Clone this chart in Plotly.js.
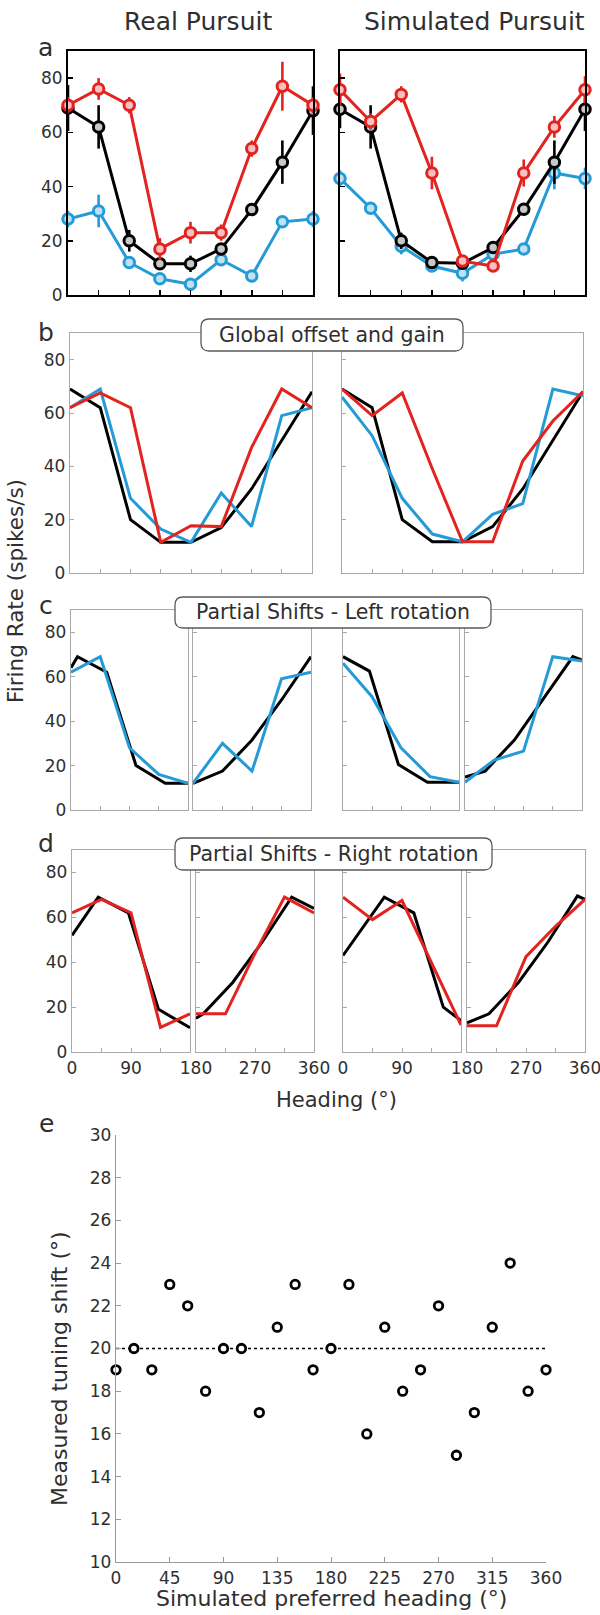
<!DOCTYPE html>
<html>
<head>
<meta charset="utf-8">
<script src="https://cdn.plot.ly/plotly-3.0.1.min.js"></script>
<style>
  html, body { margin: 0; padding: 0; background: #fff; }
  #chart { width: 600px; height: 1615px; }
</style>
</head>
<body>
<div id="chart"></div>
<script>
// ---------- data ----------
const heading = [0, 45, 90, 135, 180, 225, 270, 315, 360];

// a: measured tuning curves (mean and s.e.m.)
const realBlack    = [69, 62, 20, 11.5, 11.5, 17, 31.5, 49, 68];
const realBlackErr = [8.5, 8, 4, 2, 3, 2, 2, 8, 9];
const realRed      = [70, 76, 70, 17, 23, 23, 54, 77, 70];
const realRedErr   = [3, 4, 3, 4, 4, 3, 3, 9, 3];
const realBlue     = [28, 31, 12, 6, 4, 13, 7, 27, 28];
const realBlueErr  = [3, 6, 2, 1, 1, 2, 1, 2, 3];

const simBlack     = [68.5, 62, 20, 12, 11.7, 17.5, 31.6, 49, 68.5];
const simBlackErr  = [7, 8, 3, 1, 1, 2, 2, 8, 8];
const simRed       = [75.7, 64, 74, 45, 12.5, 10.7, 45, 62, 75.7];
const simRedErr    = [6, 3, 3, 6, 2, 2, 5, 4, 5];
const simBlue      = [43, 32, 18, 10.7, 8, 15, 17, 45, 43];
const simBlueErr   = [3, 2, 3, 2, 3, 3, 2, 6, 4];

// b: global offset and gain model
const gainRealBlack = [69, 62, 20, 11.5, 11.5, 17, 31.5, 50, 68];
const gainRealBlue  = [62, 69, 28, 16.5, 11.5, 30, 17.4, 59, 62];
const gainRealRed   = [62, 67.5, 62, 11.5, 17.7, 17.4, 47, 69, 62];
const gainSimBlack  = [69, 62, 20, 11.7, 11.7, 17.4, 31.5, 49.6, 68];
const gainSimBlue   = [66, 51.5, 28, 14.6, 11.7, 22, 26, 69, 66.5];
const gainSimRed    = [69, 59, 67.5, 39, 11.7, 11.7, 42, 57, 68];

// c: partial shifts, left rotation (each half drawn separately)
const leftHalfHeading  = [0, 45, 90, 135, 180];
const rightHalfHeading = [180, 225, 270, 315, 360];
const cRealBlackX1 = [0, 10, 55, 100, 145, 180];
const cRealBlackY1 = [64, 69, 62, 20, 12, 12];
const cRealBlue1   = [62, 69, 28, 16, 12];
const cRealBlack2  = [12, 17.5, 31.5, 49.5, 69];
const cRealBlue2   = [12, 30, 17.5, 59, 62];
const cSimBlackX1  = [0, 41, 86, 131, 180];
const cSimBlackY1  = [69, 62.5, 20.5, 12.5, 12.5];
const cSimBlue1    = [66, 51, 28, 15, 12.5];
const cSimBlackX2  = [180, 211, 256, 301, 346, 360];
const cSimBlackY2  = [14.8, 17.5, 31.5, 50, 69, 67.5];
const cSimBlue2    = [12.5, 22.5, 26.5, 69, 67];

// d: partial shifts, right rotation
const dRealBlackX1 = [0, 40, 86, 132, 180];
const dRealBlackY1 = [52, 69, 62, 19, 10.8];
const dRealRed1    = [62, 68, 62, 11, 17];
const dRealBlackX2 = [180, 191, 236, 281, 326, 360];
const dRealBlackY2 = [15, 17, 31, 49, 69, 64];
const dRealRed2    = [17, 17, 44, 69, 62];
const dSimBlackX1  = [0, 63, 108, 153, 180];
const dSimBlackY1  = [43, 69, 62, 20, 14];
const dSimRed1     = [69, 59, 67.5, 40, 12];
const dSimBlackX2  = [180, 213.5, 258.5, 303.5, 348.5, 360];
const dSimBlackY2  = [13, 17, 31, 49, 69.5, 68];
const dSimRed2     = [11.7, 11.7, 42.5, 56, 68];

// e: recovered tuning shift for each simulated preferred heading
const preferredHeading = [0, 15, 30, 45, 60, 75, 90, 105, 120, 135, 150, 165, 180,
                          195, 210, 225, 240, 255, 270, 285, 300, 315, 330, 345, 360];
const measuredShift    = [19, 20, 19, 23, 22, 18, 20, 20, 17, 21, 23, 19, 20,
                          23, 16, 21, 18, 19, 22, 15, 17, 21, 24, 18, 19];
const appliedShift = 20;

// tick labels
const rateTicks = [0, 20, 40, 60, 80];
const lowHalfLabels  = ['0', '', '90', '', ''];
const highHalfLabels = ['180', '', '270', '', '360'];
const shiftTicks = [10, 12, 14, 16, 18, 20, 22, 24, 26, 28, 30];
const prefTicks  = [0, 45, 90, 135, 180, 225, 270, 315, 360];

// ---------- styling ----------
const W = 600, H = 1615;
const FONT = 'DejaVu Sans';
const TXT = '#2f2f2f';
const RED = '#e2231f';
const BLUE = '#249bd6';
const BLACK = '#000000';
const px = v => v / W;
const py = v => 1 - v / H;

const frameA = { mirror: true, lc: '#000000', lw: 2, tl: 5, tw: 1.5 };
const frameB = { mirror: true, lc: '#a9a9a9', lw: 1.2, tl: 4, tw: 1 };
const frameE = { mirror: false, lc: '#9a9a9a', lw: 1.2, tl: 5, tw: 1 };

const layout = {
  width: W, height: H,
  margin: { l: 0, r: 0, t: 0, b: 0 },
  paper_bgcolor: '#ffffff', plot_bgcolor: 'rgba(0,0,0,0)',
  showlegend: false,
  font: { family: FONT, color: TXT },
  annotations: [], shapes: []
};

let nAx = 0;
function panel(x0, x1, y0, y1, f, o) {
  nAx += 1;
  const sfx = nAx === 1 ? '' : String(nAx);
  const common = {
    showgrid: false, zeroline: false, showline: true, fixedrange: true,
    ticks: 'inside', tickmode: 'array', mirror: f.mirror, ticklabeloverflow: 'allow',
    linecolor: f.lc, linewidth: f.lw, tickcolor: f.lc, ticklen: f.tl, tickwidth: f.tw,
    tickfont: { family: FONT, size: 17, color: TXT }
  };
  layout['xaxis' + sfx] = Object.assign({}, common, {
    domain: [px(x0), px(x1)], range: o.xr, anchor: 'y' + sfx,
    tickvals: o.xt, ticktext: o.xtt || o.xt.map(() => ''), showticklabels: !!o.xtt
  });
  layout['yaxis' + sfx] = Object.assign({}, common, {
    domain: [py(y1), py(y0)], range: o.yr, anchor: 'x' + sfx,
    tickvals: o.yt, ticktext: o.ytt || o.yt.map(() => ''), showticklabels: !!o.ytt
  });
  return { xaxis: 'x' + sfx, yaxis: 'y' + sfx };
}

const traces = [];
function line(ax, x, y, color, w) {
  traces.push(Object.assign({
    type: 'scatter', mode: 'lines', x: x, y: y, cliponaxis: false, hoverinfo: 'skip',
    line: { color: color, width: w || 3 }
  }, ax));
}
function errLine(ax, x, y, err, color, fill) {
  traces.push(Object.assign({
    type: 'scatter', mode: 'lines+markers', x: x, y: y, cliponaxis: false, hoverinfo: 'skip',
    line: { color: color, width: 3 },
    marker: { symbol: 'circle', size: 10.5, color: fill, line: { color: color, width: 3 } },
    error_y: { type: 'data', array: err, visible: true, color: color, thickness: 2.6, width: 0 }
  }, ax));
}

const rateLabels = rateTicks.map(String);

// ---- a ----
const aL = panel(68, 313, 51, 295, frameA, { xr: [0, 360], xt: heading, yr: [0, 90], yt: rateTicks, ytt: rateLabels });
errLine(aL, heading, realBlue, realBlueErr, BLUE, '#bfe1f3');
errLine(aL, heading, realBlack, realBlackErr, BLACK, '#c8c8c8');
errLine(aL, heading, realRed, realRedErr, RED, '#f5c2c1');
const aR = panel(340, 585, 51, 295, frameA, { xr: [0, 360], xt: heading, yr: [0, 90], yt: rateTicks });
errLine(aR, heading, simBlue, simBlueErr, BLUE, '#bfe1f3');
errLine(aR, heading, simBlack, simBlackErr, BLACK, '#c8c8c8');
errLine(aR, heading, simRed, simRedErr, RED, '#f5c2c1');

// ---- b ----
const bL = panel(70, 312, 333, 573, frameB, { xr: [0, 360], xt: heading, yr: [0, 90], yt: rateTicks, ytt: rateLabels });
line(bL, heading, gainRealBlack, BLACK);
line(bL, heading, gainRealBlue, BLUE);
line(bL, heading, gainRealRed, RED);
const bR = panel(342, 583, 333, 573, frameB, { xr: [0, 360], xt: heading, yr: [0, 90], yt: rateTicks });
line(bR, heading, gainSimBlack, BLACK);
line(bR, heading, gainSimBlue, BLUE);
line(bR, heading, gainSimRed, RED);

// ---- c ----
const c1 = panel(71, 188, 610, 810, frameB, { xr: [0, 180], xt: leftHalfHeading, yr: [0, 90], yt: rateTicks, ytt: rateLabels });
line(c1, cRealBlackX1, cRealBlackY1, BLACK);
line(c1, leftHalfHeading, cRealBlue1, BLUE);
const c2 = panel(193, 311, 610, 810, frameB, { xr: [180, 360], xt: rightHalfHeading, yr: [0, 90], yt: rateTicks });
line(c2, rightHalfHeading, cRealBlack2, BLACK);
line(c2, rightHalfHeading, cRealBlue2, BLUE);
const c3 = panel(343, 459, 610, 810, frameB, { xr: [0, 180], xt: leftHalfHeading, yr: [0, 90], yt: rateTicks });
line(c3, cSimBlackX1, cSimBlackY1, BLACK);
line(c3, leftHalfHeading, cSimBlue1, BLUE);
const c4 = panel(465, 582, 610, 810, frameB, { xr: [180, 360], xt: rightHalfHeading, yr: [0, 90], yt: rateTicks });
line(c4, cSimBlackX2, cSimBlackY2, BLACK);
line(c4, rightHalfHeading, cSimBlue2, BLUE);

// ---- d ----
const d1 = panel(72, 190, 850, 1052, frameB, { xr: [0, 180], xt: leftHalfHeading, xtt: lowHalfLabels, yr: [0, 90], yt: rateTicks, ytt: rateLabels });
line(d1, dRealBlackX1, dRealBlackY1, BLACK);
line(d1, leftHalfHeading, dRealRed1, RED);
const d2 = panel(196, 314, 850, 1052, frameB, { xr: [180, 360], xt: rightHalfHeading, xtt: highHalfLabels, yr: [0, 90], yt: rateTicks });
line(d2, dRealBlackX2, dRealBlackY2, BLACK);
line(d2, rightHalfHeading, dRealRed2, RED);
const d3 = panel(343, 461, 850, 1052, frameB, { xr: [0, 180], xt: leftHalfHeading, xtt: lowHalfLabels, yr: [0, 90], yt: rateTicks });
line(d3, dSimBlackX1, dSimBlackY1, BLACK);
line(d3, leftHalfHeading, dSimRed1, RED);
const d4 = panel(467, 585, 850, 1052, frameB, { xr: [180, 360], xt: rightHalfHeading, xtt: highHalfLabels, yr: [0, 90], yt: rateTicks });
line(d4, dSimBlackX2, dSimBlackY2, BLACK);
line(d4, rightHalfHeading, dSimRed2, RED);

// ---- e ----
const e = panel(116, 546, 1135, 1562, frameE, { xr: [0, 360], xt: prefTicks, xtt: prefTicks.map(String), yr: [10, 30], yt: shiftTicks, ytt: shiftTicks.map(String) });
traces.push(Object.assign({
  type: 'scatter', mode: 'lines', x: [prefTicks[0], prefTicks[prefTicks.length - 1]], y: [appliedShift, appliedShift],
  hoverinfo: 'skip', line: { color: '#000', width: 1.6, dash: 'dot' }
}, e));
traces.push(Object.assign({
  type: 'scatter', mode: 'markers', x: preferredHeading, y: measuredShift, cliponaxis: false, hoverinfo: 'skip',
  marker: { symbol: 'circle', size: 8.5, color: '#ffffff', line: { color: '#000', width: 2.8 } }
}, e));

// ---------- text ----------
function note(text, x, y, size, extra) {
  layout.annotations.push(Object.assign({
    text: text, xref: 'paper', yref: 'paper', x: px(x), y: py(y),
    xanchor: 'center', yanchor: 'middle', showarrow: false,
    font: { family: FONT, size: size, color: TXT }
  }, extra || {}));
}
note('Real Pursuit', 198, 22, 25);
note('Simulated Pursuit', 474, 22, 25);
note('a', 45, 48, 25);
note('b', 46, 332, 25);
note('c', 46, 605, 25);
note('d', 46, 843, 25);
note('e', 46, 1123, 25);
note('Firing Rate (spikes/s)', 16, 591, 21.5, { textangle: -90 });
note('Heading (°)', 336, 1100, 21);
note('Measured tuning shift (°)', 59, 1369, 22, { textangle: -90 });
note('Simulated preferred heading (°)', 331, 1598, 22);

// rounded caption boxes
function roundBox(x0, y0, x1, y1, r) {
  const P = (x, y) => px(x).toFixed(5) + ',' + py(y).toFixed(5);
  return 'M' + P(x0 + r, y0) + ' L' + P(x1 - r, y0) + ' Q' + P(x1, y0) + ' ' + P(x1, y0 + r) +
         ' L' + P(x1, y1 - r) + ' Q' + P(x1, y1) + ' ' + P(x1 - r, y1) +
         ' L' + P(x0 + r, y1) + ' Q' + P(x0, y1) + ' ' + P(x0, y1 - r) +
         ' L' + P(x0, y0 + r) + ' Q' + P(x0, y0) + ' ' + P(x0 + r, y0) + ' Z';
}
function caption(text, x0, y0, x1, y1) {
  layout.shapes.push({
    type: 'path', xref: 'paper', yref: 'paper', path: roundBox(x0, y0, x1, y1, 8),
    fillcolor: '#ffffff', line: { color: '#5a5a5a', width: 1.3 }, layer: 'above'
  });
  note(text, (x0 + x1) / 2, (y0 + y1) / 2, 20.5);
}
caption('Global offset and gain', 201, 319, 463, 351);
caption('Partial Shifts - Left rotation', 175, 597, 491, 628);
caption('Partial Shifts - Right rotation', 175, 838, 492, 870);

Plotly.newPlot('chart', traces, layout, { staticPlot: true, displayModeBar: false });
</script>
</body>
</html>
